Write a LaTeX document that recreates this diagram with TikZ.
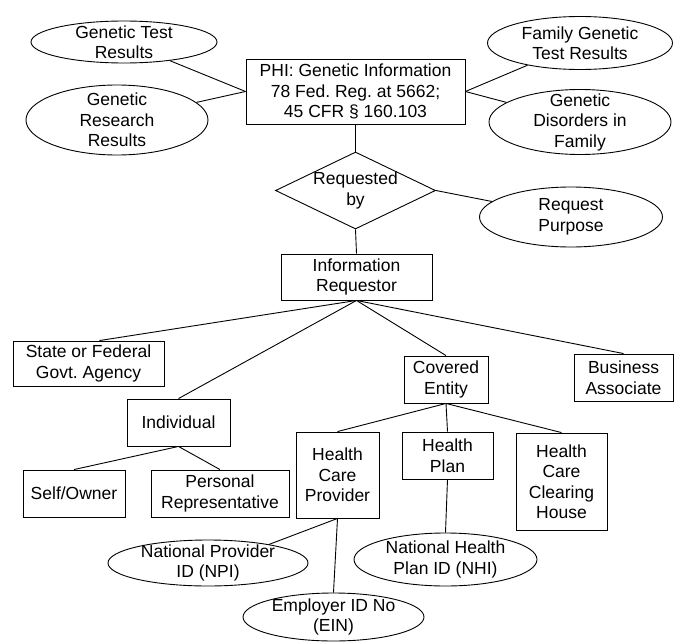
\documentclass[tikz,border=0pt]{standalone}
\usepackage{fontspec}
\setmainfont{Liberation Sans}
\usetikzlibrary{shapes.geometric}
\frenchspacing

\begin{document}
\begin{tikzpicture}[x=1pt,y=-1pt,
  font=\fontsize{17.5}{20.5}\selectfont,
  line width=0.9pt,
  box/.style={draw, rectangle, inner sep=0pt, align=center},
  oval/.style={draw, ellipse, inner sep=0pt},
  txt/.style={align=center, inner sep=0pt}]
\useasboundingbox (0,0) rectangle (674,642);

% genetic information and its attributes
\node[box, minimum width=219, minimum height=65] (phi) at (355.5,91.5)
  {PHI: Genetic Information\\78 Fed. Reg. at 5662;\\45 CFR \S\ 160.103};
\node[oval, minimum width=186, minimum height=42,
  label={[txt]center:Genetic Test\\Results}] (gtr) at (124,42) {};
\node[oval, minimum width=182, minimum height=70,
  label={[txt]center:Genetic\\Research\\Results}] (grr) at (117,120) {};
\node[oval, minimum width=185, minimum height=53,
  label={[txt]center:Family Genetic\\Test Results}] (fgtr) at (580,43) {};
\node[oval, minimum width=182, minimum height=65,
  label={[txt]center:Genetic\\Disorders in\\Family}] (gdf) at (580,122) {};

% relationship
\node[draw, diamond, aspect=2.08, inner sep=0pt, minimum width=160, minimum height=77,
  label={[txt]center:Requested\\by}] (reqby) at (355.5,190.5) {};
\node[oval, minimum width=183, minimum height=60,
  label={[txt]center:Request\\Purpose}] (purp) at (571,217) {};

% requestors
\node[box, minimum width=151, minimum height=46] (ireq) at (356.5,277) {Information\\Requestor};
\node[box, minimum width=151, minimum height=45] (state) at (88.5,363.5) {State or Federal\\Govt. Agency};
\node[box, minimum width=103, minimum height=47] (indiv) at (178.5,422.5) {Individual};
\node[box, minimum width=102, minimum height=47] (self) at (74,493.5) {Self/Owner};
\node[box, minimum width=138, minimum height=47] (prep) at (220,493.5) {Personal\\Representative};
\node[box, minimum width=84, minimum height=47] (cent) at (446,379.5) {Covered\\Entity};
\node[box, minimum width=99, minimum height=47] (bass) at (623.5,377.5) {Business\\Associate};

% covered entity kinds
\node[box, minimum width=83, minimum height=86] (hcp) at (337.5,475) {Health\\Care\\Provider};
\node[box, minimum width=91, minimum height=47] (hplan) at (447.5,455.5) {Health\\Plan};
\node[box, minimum width=91, minimum height=97] (hcch) at (561.5,481.5) {Health\\Care\\Clearing\\House};

% identifiers
\node[oval, minimum width=200, minimum height=46,
  label={[txt]center:National Provider\\ID (NPI)}] (npi) at (208,563) {};
\node[oval, minimum width=181, minimum height=48,
  label={[txt]center:Employer ID No\\(EIN)}] (ein) at (333.5,617) {};
\node[oval, minimum width=183, minimum height=53,
  label={[txt]center:National Health\\Plan ID (NHI)}] (nhi) at (445.5,559.5) {};

% connectors
\draw (phi.west) -- (gtr);
\draw (phi.west) -- (grr);
\draw (phi.east) -- (fgtr);
\draw (phi.east) -- (gdf);
\draw (phi.south) -- (reqby.north);
\draw (reqby.east) -- (purp);
\draw (reqby.south) -- (ireq.north);
\draw (ireq.south) -- ([xshift=11]state.north);
\draw (ireq.south) -- (indiv.north);
\draw (ireq.south) -- (cent.north);
\draw (ireq.south) -- (bass.north);
\draw (indiv.south) -- (self.north);
\draw (indiv.south) -- (prep.north);
\draw (cent.south) -- (hcp.north);
\draw (cent.south) -- (hplan.north);
\draw (cent.south) -- (hcch.north);
\draw (hcp.south) -- ([xshift=-10,yshift=2]npi.north east);
\draw (hcp.south) -- (ein.north);
\draw (hplan.south) -- (nhi.north);
\end{tikzpicture}
\end{document}
